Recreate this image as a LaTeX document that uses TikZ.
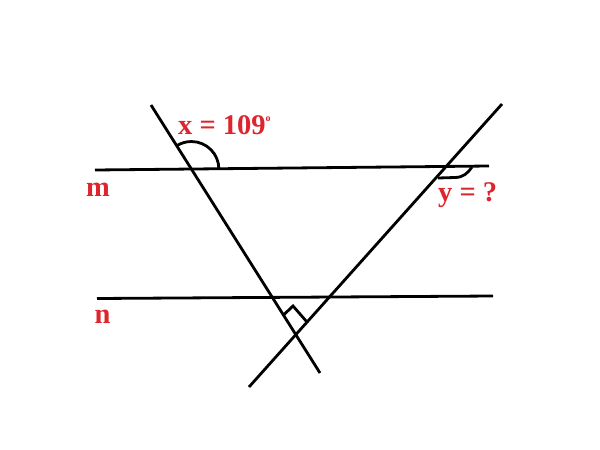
\documentclass[tikz,border=0pt]{standalone}
\usepackage{fontspec}
\setmainfont{Liberation Serif}
\usetikzlibrary{intersections}
\definecolor{lblred}{RGB}{222,36,44}
\begin{document}
\begin{tikzpicture}[x=1pt,y=-1pt,
  geoline/.style={line width=2.8pt, black},
  lbl/.style={text=lblred, font=\bfseries\fontsize{28.5}{30}\selectfont, inner sep=0pt}]
\useasboundingbox[fill=white] (0,0) rectangle (600,450);
% line endpoints
\coordinate (m1) at (95,170);
\coordinate (m2) at (489,166);
\coordinate (n1) at (97,298.5);
\coordinate (n2) at (493,296);
\coordinate (a1) at (151,105);
\coordinate (a2) at (320,373);
\coordinate (b1) at (502,104);
\coordinate (b2) at (249,387);
% lines
\draw[geoline, name path=m] (m1) -- (m2);
\draw[geoline, name path=n] (n1) -- (n2);
\draw[geoline, name path=a] (a1) -- (a2);
\draw[geoline, name path=b] (b1) -- (b2);
\path[name intersections={of=a and m, by=X}];
\path[name intersections={of=b and m, by=Y}];
% angle x
\draw[geoline] (X) ++(0:27.5) arc[start angle=0, end angle=-122, radius=27.5];
% angle y
\coordinate (y1) at (438,178);
\coordinate (y2) at (472,167);
\draw[geoline] (y1) -- (455,177.5) .. controls (463,177.5) and (468,173) .. (y2);
% right-angle mark
\coordinate (r1) at (283.5,315);
\coordinate (r2) at (293,306);
\coordinate (r3) at (307,322);
\draw[geoline] (r1) -- (r2) -- (r3);
% labels
\node[lbl, anchor=base west] (lx) at (178,134.5) {x = 109\raisebox{13pt}{\fontsize{10}{10}\selectfont o}};
\node[lbl, anchor=base west] (ly) at (438,201) {y = ?};
\node[lbl, anchor=base west] (lm) at (86,196) {m};
\node[lbl, anchor=base west] (ln) at (94.5,323.5) {n};
\end{tikzpicture}
\end{document}
